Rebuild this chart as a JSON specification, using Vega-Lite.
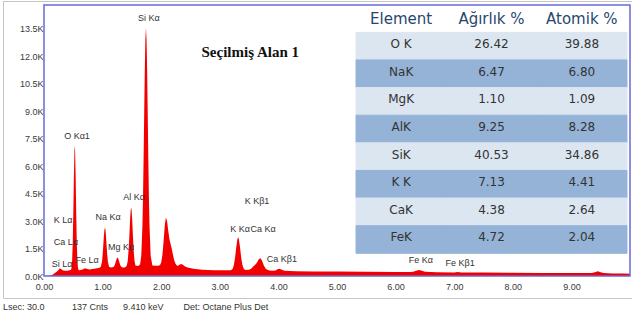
{
  "$schema": "https://vega.github.io/schema/vega-lite/v6.json",
  "width": 629,
  "height": 297,
  "padding": {"left": 3, "top": 1, "right": 0, "bottom": 0},
  "background": "white",
  "config": {
    "view": {"stroke": "#c6c6c6", "strokeWidth": 1},
    "title": {"font": "Liberation Sans", "fontSize": 9, "fontWeight": "normal", "color": "#333333"}
  },
  "title": {
    "text": "Lsec: 30.0\u00a0\u00a0\u00a0\u00a0\u00a0\u00a0\u00a0\u00a0\u00a0\u00a0\u00a0137 Cnts\u00a0\u00a0\u00a0\u00a0\u00a0\u00a09.410 keV\u00a0\u00a0\u00a0\u00a0\u00a0\u00a0\u00a0\u00a0Det: Octane Plus Det",
    "orient": "bottom",
    "anchor": "start",
    "offset": 5
  },
  "resolve": {"scale": {"x": "independent", "y": "independent", "color": "independent"}},
  "layer": [
    {
      "data": {"values": [
        {"keV": 0.00, "sayim": 0}, {"keV": 0.05, "sayim": 0}, {"keV": 0.10, "sayim": 20}, {"keV": 0.14, "sayim": 60},
        {"keV": 0.18, "sayim": 150}, {"keV": 0.21, "sayim": 220}, {"keV": 0.24, "sayim": 300}, {"keV": 0.27, "sayim": 420},
        {"keV": 0.30, "sayim": 360}, {"keV": 0.33, "sayim": 300}, {"keV": 0.36, "sayim": 280}, {"keV": 0.40, "sayim": 290},
        {"keV": 0.43, "sayim": 320}, {"keV": 0.46, "sayim": 330}, {"keV": 0.47, "sayim": 455}, {"keV": 0.48, "sayim": 840},
        {"keV": 0.49, "sayim": 1770}, {"keV": 0.50, "sayim": 3410}, {"keV": 0.51, "sayim": 5430}, {"keV": 0.52, "sayim": 6890},
        {"keV": 0.525, "sayim": 7100}, {"keV": 0.53, "sayim": 6890}, {"keV": 0.54, "sayim": 5430}, {"keV": 0.55, "sayim": 3410},
        {"keV": 0.56, "sayim": 1770}, {"keV": 0.57, "sayim": 840}, {"keV": 0.58, "sayim": 455}, {"keV": 0.59, "sayim": 334},
        {"keV": 0.60, "sayim": 320}, {"keV": 0.62, "sayim": 330}, {"keV": 0.66, "sayim": 360}, {"keV": 0.70, "sayim": 420},
        {"keV": 0.74, "sayim": 380}, {"keV": 0.78, "sayim": 360}, {"keV": 0.82, "sayim": 380}, {"keV": 0.86, "sayim": 400},
        {"keV": 0.90, "sayim": 420}, {"keV": 0.94, "sayim": 440}, {"keV": 0.97, "sayim": 510}, {"keV": 0.99, "sayim": 796},
        {"keV": 1.00, "sayim": 1124}, {"keV": 1.01, "sayim": 1580}, {"keV": 1.02, "sayim": 2086}, {"keV": 1.03, "sayim": 2493},
        {"keV": 1.04, "sayim": 2650}, {"keV": 1.05, "sayim": 2493}, {"keV": 1.06, "sayim": 2086}, {"keV": 1.07, "sayim": 1580},
        {"keV": 1.08, "sayim": 1124}, {"keV": 1.09, "sayim": 796}, {"keV": 1.11, "sayim": 510}, {"keV": 1.14, "sayim": 460},
        {"keV": 1.17, "sayim": 480}, {"keV": 1.19, "sayim": 500}, {"keV": 1.21, "sayim": 620}, {"keV": 1.23, "sayim": 840},
        {"keV": 1.245, "sayim": 980}, {"keV": 1.254, "sayim": 1010}, {"keV": 1.265, "sayim": 970}, {"keV": 1.28, "sayim": 820},
        {"keV": 1.30, "sayim": 600}, {"keV": 1.32, "sayim": 490}, {"keV": 1.35, "sayim": 460}, {"keV": 1.38, "sayim": 470},
        {"keV": 1.41, "sayim": 540}, {"keV": 1.43, "sayim": 830}, {"keV": 1.45, "sayim": 1750}, {"keV": 1.46, "sayim": 2450},
        {"keV": 1.47, "sayim": 3145}, {"keV": 1.48, "sayim": 3620}, {"keV": 1.487, "sayim": 3730}, {"keV": 1.495, "sayim": 3590},
        {"keV": 1.505, "sayim": 3080}, {"keV": 1.515, "sayim": 2370}, {"keV": 1.53, "sayim": 1400}, {"keV": 1.545, "sayim": 820},
        {"keV": 1.56, "sayim": 580}, {"keV": 1.58, "sayim": 560}, {"keV": 1.61, "sayim": 540}, {"keV": 1.64, "sayim": 640},
        {"keV": 1.66, "sayim": 1110}, {"keV": 1.68, "sayim": 2780}, {"keV": 1.69, "sayim": 4375}, {"keV": 1.70, "sayim": 6490},
        {"keV": 1.71, "sayim": 8915}, {"keV": 1.72, "sayim": 11240}, {"keV": 1.73, "sayim": 12920}, {"keV": 1.74, "sayim": 13540},
        {"keV": 1.75, "sayim": 12920}, {"keV": 1.76, "sayim": 11240}, {"keV": 1.77, "sayim": 8915}, {"keV": 1.78, "sayim": 6490},
        {"keV": 1.79, "sayim": 4375}, {"keV": 1.80, "sayim": 2780}, {"keV": 1.82, "sayim": 1110}, {"keV": 1.85, "sayim": 580},
        {"keV": 1.90, "sayim": 560}, {"keV": 1.95, "sayim": 560}, {"keV": 1.98, "sayim": 603}, {"keV": 2.00, "sayim": 744},
        {"keV": 2.02, "sayim": 1137}, {"keV": 2.04, "sayim": 1872}, {"keV": 2.06, "sayim": 2729}, {"keV": 2.08, "sayim": 3195},
        {"keV": 2.10, "sayim": 3010}, {"keV": 2.12, "sayim": 2467}, {"keV": 2.14, "sayim": 2017}, {"keV": 2.16, "sayim": 1744},
        {"keV": 2.18, "sayim": 1485}, {"keV": 2.20, "sayim": 1174}, {"keV": 2.22, "sayim": 885}, {"keV": 2.24, "sayim": 695},
        {"keV": 2.26, "sayim": 604}, {"keV": 2.28, "sayim": 540}, {"keV": 2.31, "sayim": 620}, {"keV": 2.34, "sayim": 660},
        {"keV": 2.37, "sayim": 610}, {"keV": 2.40, "sayim": 530}, {"keV": 2.45, "sayim": 470}, {"keV": 2.55, "sayim": 400},
        {"keV": 2.70, "sayim": 340}, {"keV": 2.90, "sayim": 320}, {"keV": 3.10, "sayim": 320}, {"keV": 3.19, "sayim": 320},
        {"keV": 3.22, "sayim": 400}, {"keV": 3.24, "sayim": 595}, {"keV": 3.26, "sayim": 994}, {"keV": 3.28, "sayim": 1545},
        {"keV": 3.30, "sayim": 2010}, {"keV": 3.313, "sayim": 2110}, {"keV": 3.325, "sayim": 2020}, {"keV": 3.345, "sayim": 1570},
        {"keV": 3.365, "sayim": 1015}, {"keV": 3.385, "sayim": 610}, {"keV": 3.41, "sayim": 380}, {"keV": 3.44, "sayim": 330},
        {"keV": 3.48, "sayim": 340}, {"keV": 3.50, "sayim": 340}, {"keV": 3.54, "sayim": 415}, {"keV": 3.57, "sayim": 514},
        {"keV": 3.60, "sayim": 602}, {"keV": 3.63, "sayim": 708}, {"keV": 3.66, "sayim": 883}, {"keV": 3.69, "sayim": 979},
        {"keV": 3.72, "sayim": 840}, {"keV": 3.75, "sayim": 587}, {"keV": 3.78, "sayim": 408}, {"keV": 3.81, "sayim": 338},
        {"keV": 3.85, "sayim": 300}, {"keV": 3.90, "sayim": 290}, {"keV": 3.95, "sayim": 300}, {"keV": 3.97, "sayim": 342},
        {"keV": 4.01, "sayim": 390}, {"keV": 4.05, "sayim": 352}, {"keV": 4.10, "sayim": 290}, {"keV": 4.30, "sayim": 260},
        {"keV": 4.60, "sayim": 250}, {"keV": 5.00, "sayim": 240}, {"keV": 5.50, "sayim": 230}, {"keV": 6.00, "sayim": 220},
        {"keV": 6.25, "sayim": 215}, {"keV": 6.30, "sayim": 236}, {"keV": 6.35, "sayim": 290}, {"keV": 6.40, "sayim": 330},
        {"keV": 6.45, "sayim": 290}, {"keV": 6.50, "sayim": 230}, {"keV": 6.70, "sayim": 200}, {"keV": 7.00, "sayim": 195},
        {"keV": 7.06, "sayim": 215}, {"keV": 7.12, "sayim": 195}, {"keV": 7.50, "sayim": 185}, {"keV": 8.00, "sayim": 175},
        {"keV": 8.50, "sayim": 170}, {"keV": 9.00, "sayim": 165}, {"keV": 9.30, "sayim": 160}, {"keV": 9.35, "sayim": 170},
        {"keV": 9.40, "sayim": 210}, {"keV": 9.45, "sayim": 260}, {"keV": 9.50, "sayim": 210}, {"keV": 9.55, "sayim": 160},
        {"keV": 9.70, "sayim": 140}, {"keV": 9.90, "sayim": 130}, {"keV": 10.00, "sayim": 120}
      ]},
      "layer": [
        {
          "mark": {"type": "area", "color": "#f20000", "interpolate": "linear"},
          "encoding": {
            "x": {
              "field": "keV", "type": "quantitative",
              "scale": {"domain": [0, 10], "range": [41, 627], "nice": false, "zero": false},
              "axis": {
                "values": [0, 1, 2, 3, 4, 5, 6, 7, 8, 9], "tickCount": 20, "format": ".2f", "title": null,
                "domain": false, "ticks": false, "grid": false, "labelFlush": false, "labelOverlap": false,
                "offset": -22, "labelPadding": 6,
                "labelFont": "Liberation Sans", "labelFontSize": 9, "labelColor": "#3a3a3a"
              }
            },
            "y": {
              "field": "sayim", "type": "quantitative",
              "scale": {"domain": [0, 14800], "range": [275, 4], "nice": false, "zero": true},
              "axis": {
                "values": [0, 1500, 3000, 4500, 6000, 7500, 9000, 10500, 12000, 13500], "tickCount": 20,
                "labelExpr": "format(datum.value / 1000, '.1f') + 'K'", "title": null,
                "domain": false, "ticks": false, "grid": false, "labelOverlap": false,
                "offset": -41, "labelPadding": 1,
                "labelFont": "Liberation Sans", "labelFontSize": 9, "labelColor": "#3a3a3a"
              }
            }
          }
        },
        {
          "data": {"values": [{}]},
          "mark": {"type": "rect", "filled": false, "stroke": "#6868d8", "strokeWidth": 1.5},
          "encoding": {
            "x": {"datum": 0, "type": "quantitative"},
            "x2": {"datum": 10},
            "y": {"datum": 0, "type": "quantitative"},
            "y2": {"datum": 14800}
          }
        },
        {
          "data": {"values": [
            {"etiket": "Si Kα", "kev": 1.79, "sayim": 14100},
            {"etiket": "O  Kα1", "kev": 0.563, "sayim": 7650},
            {"etiket": "K  Lα", "kev": 0.324, "sayim": 3060},
            {"etiket": "Ca Lα", "kev": 0.375, "sayim": 1860},
            {"etiket": "Si Lα", "kev": 0.307, "sayim": 660},
            {"etiket": "Fe Lα", "kev": 0.734, "sayim": 870},
            {"etiket": "Na Kα", "kev": 1.092, "sayim": 3220},
            {"etiket": "Mg Kα", "kev": 1.314, "sayim": 1580},
            {"etiket": "Al Kα", "kev": 1.536, "sayim": 4320},
            {"etiket": "K  Kβ1", "kev": 3.635, "sayim": 4100},
            {"etiket": "K  Kα", "kev": 3.345, "sayim": 2570},
            {"etiket": "Ca Kα", "kev": 3.737, "sayim": 2570},
            {"etiket": "Ca Kβ1", "kev": 4.06, "sayim": 930},
            {"etiket": "Fe Kα", "kev": 6.43, "sayim": 870},
            {"etiket": "Fe Kβ1", "kev": 7.10, "sayim": 710}
          ]},
          "mark": {"type": "text", "font": "Liberation Sans", "fontSize": 9, "color": "#333333"},
          "encoding": {
            "x": {"field": "kev", "type": "quantitative"},
            "y": {"field": "sayim", "type": "quantitative"},
            "text": {"field": "etiket"}
          }
        },
        {
          "data": {"values": [{}]},
          "mark": {"type": "text", "font": "Liberation Serif", "fontWeight": "bold", "fontSize": 15, "color": "#111111"},
          "encoding": {
            "x": {"datum": 3.52, "type": "quantitative"},
            "y": {"datum": 12240, "type": "quantitative"},
            "text": {"value": "Seçilmiş Alan 1"}
          }
        }
      ]
    },
    {
      "data": {"values": [
        {"Element": "O K", "Ağırlık %": 26.42, "Atomik %": 39.88},
        {"Element": "NaK", "Ağırlık %": 6.47, "Atomik %": 6.80},
        {"Element": "MgK", "Ağırlık %": 1.10, "Atomik %": 1.09},
        {"Element": "AlK", "Ağırlık %": 9.25, "Atomik %": 8.28},
        {"Element": "SiK", "Ağırlık %": 40.53, "Atomik %": 34.86},
        {"Element": "K K", "Ağırlık %": 7.13, "Atomik %": 4.41},
        {"Element": "CaK", "Ağırlık %": 4.38, "Atomik %": 2.64},
        {"Element": "FeK", "Ağırlık %": 4.72, "Atomik %": 2.04}
      ]},
      "layer": [
        {
          "transform": [{"fold": ["Element", "Ağırlık %", "Atomik %"], "as": ["sutun", "deger"]}],
          "mark": {"type": "rect", "strokeWidth": 1},
          "encoding": {
            "x": {
              "field": "sutun", "type": "nominal", "axis": null,
              "scale": {"domain": ["Element", "Ağırlık %", "Atomik %"], "range": [353, 624], "paddingInner": 0, "paddingOuter": 0}
            },
            "y": {
              "field": "Element", "type": "nominal", "axis": null,
              "scale": {"domain": ["Element", "O K", "NaK", "MgK", "AlK", "SiK", "K K", "CaK", "FeK"], "range": [3.7, 252.3], "paddingInner": 0, "paddingOuter": 0}
            },
            "color": {
              "field": "Element", "type": "nominal", "legend": null,
              "scale": {
                "domain": ["O K", "NaK", "MgK", "AlK", "SiK", "K K", "CaK", "FeK"],
                "range": ["#dce6f1", "#95b3d7", "#dce6f1", "#95b3d7", "#dce6f1", "#95b3d7", "#dce6f1", "#95b3d7"]
              }
            },
            "stroke": {
              "field": "Element", "type": "nominal", "legend": null,
              "scale": {
                "domain": ["O K", "NaK", "MgK", "AlK", "SiK", "K K", "CaK", "FeK"],
                "range": ["#dce6f1", "#95b3d7", "#dce6f1", "#95b3d7", "#dce6f1", "#95b3d7", "#dce6f1", "#95b3d7"]
              }
            }
          }
        },
        {
          "data": {"values": [{"baslik": "Element"}, {"baslik": "Ağırlık %"}, {"baslik": "Atomik %"}]},
          "mark": {"type": "text", "font": "DejaVu Sans", "fontSize": 15, "color": "#27476e"},
          "encoding": {
            "x": {"field": "baslik", "type": "nominal"},
            "y": {"datum": "Element", "type": "nominal"},
            "text": {"field": "baslik"}
          }
        },
        {
          "mark": {"type": "text", "font": "DejaVu Sans", "fontSize": 12, "color": "#333333", "dy": -2},
          "encoding": {
            "x": {"datum": "Element", "type": "nominal"},
            "y": {"field": "Element", "type": "nominal"},
            "text": {"field": "Element"}
          }
        },
        {
          "mark": {"type": "text", "font": "DejaVu Sans", "fontSize": 12, "color": "#333333", "dy": -2},
          "encoding": {
            "x": {"datum": "Ağırlık %", "type": "nominal"},
            "y": {"field": "Element", "type": "nominal"},
            "text": {"field": "Ağırlık %", "type": "quantitative", "format": ".2f"}
          }
        },
        {
          "mark": {"type": "text", "font": "DejaVu Sans", "fontSize": 12, "color": "#333333", "dy": -2},
          "encoding": {
            "x": {"datum": "Atomik %", "type": "nominal"},
            "y": {"field": "Element", "type": "nominal"},
            "text": {"field": "Atomik %", "type": "quantitative", "format": ".2f"}
          }
        }
      ]
    }
  ]
}
